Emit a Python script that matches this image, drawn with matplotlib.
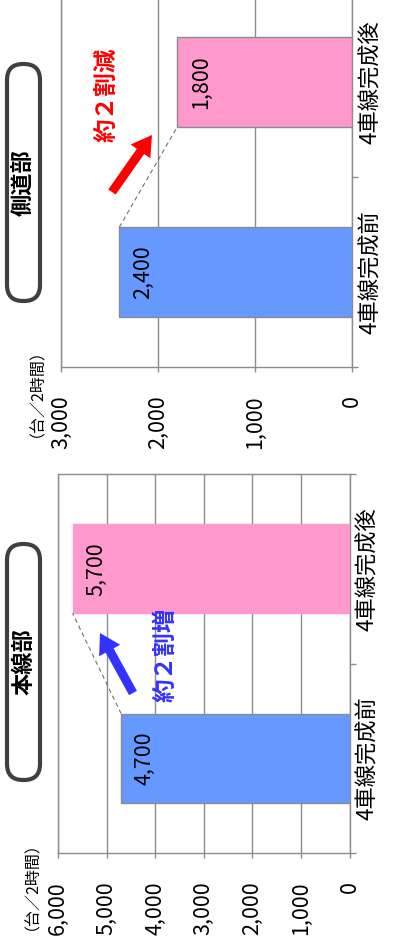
import matplotlib
matplotlib.use('Agg')
import matplotlib.pyplot as plt
from matplotlib.patches import FancyBboxPatch, FancyArrow
from matplotlib.ticker import FuncFormatter

plt.rcParams['font.family'] = ['Noto Sans CJK JP', 'DejaVu Sans']

# 交通量データ（台/2時間）
categories = ['4車線完成前', '4車線完成後']
main_values = [4700, 5700]      # 本線部
side_values = [2400, 1800]      # 側道部
main_ticks = [0, 1000, 2000, 3000, 4000, 5000, 6000]
side_ticks = [0, 1000, 2000, 3000]
unit = '（台／2時間）'

BLUE = '#6699ff'
PINK = '#ff99cc'
GRID = '#8c8c8c'
W, H = 398, 948

fig = plt.figure(figsize=(W / 100, H / 100), dpi=100)


def draw_panel(rect, values, ticks, pink_edge):
    ax = fig.add_axes(rect)
    h = 0.47
    pos = list(range(len(values)))
    ax.barh(pos, values, height=h, color=[BLUE, PINK],
            edgecolor=[GRID, GRID if pink_edge else PINK], linewidth=1, zorder=3)
    ax.set_xlim(ticks[-1], 0)
    ax.set_ylim(-0.5, len(values) - 0.5)
    ax.set_xticks(ticks)
    ax.xaxis.set_major_formatter(FuncFormatter(lambda v, p: f'{int(v):,}'))
    ax.tick_params(axis='x', direction='out', length=3.6, width=1, color=GRID,
                   pad=17, labelsize=15.5, labelrotation=90)
    ax.grid(axis='x', color=GRID, lw=1, zorder=1)
    ax.yaxis.tick_right()
    ax.set_yticks(pos)
    ax.set_yticklabels(categories, rotation=90, va='center', fontsize=16)
    ax.set_yticks([-0.5, 0.5, 1.5], minor=True)
    ax.tick_params(axis='y', which='major', length=0, pad=5)
    ax.tick_params(axis='y', which='minor', length=4.5, color=GRID, width=1,
                   direction='out')
    for s in ax.spines.values():
        s.set_color(GRID)
        s.set_linewidth(1)
    for i, v in enumerate(values):
        ax.annotate(f'{v:,}', xy=(v, i), xytext=(17, 0), textcoords='offset points',
                    rotation=90, ha='center', va='center', fontsize=15.5)
    # 前後の棒の角を結ぶ破線
    ax.plot([values[0], values[1]], [h / 2, 1 - h / 2], ls=(0, (4, 3)),
            color='#707070', lw=0.8, zorder=4)
    return ax


draw_panel([58 / W, (H - 853) / H, 291.5 / W, 379 / H], main_values, main_ticks, False)
draw_panel([61 / W, (H - 367) / H, 291 / W, 380 / H], side_values, side_ticks, True)

# 見出し・矢印などはピクセル座標の重ね合わせ軸に描く
ov = fig.add_axes([0, 0, 1, 1])
ov.set_xlim(0, W)
ov.set_ylim(H, 0)
ov.axis('off')

for y0, y1, title in [(544, 780, '本線部'), (64, 301, '側道部')]:
    ov.add_patch(FancyBboxPatch((7, y0), 33, y1 - y0,
                                boxstyle='round,pad=0,rounding_size=16',
                                fc='white', ec='#404040', lw=3))
    ov.text(24, (y0 + y1) / 2, title, rotation=90, ha='center', va='center',
            fontsize=16, fontweight='bold')

ov.text(24, 878, unit, rotation=90, ha='center', va='center', fontsize=11.5)
ov.text(29, 385, unit, rotation=90, ha='center', va='center', fontsize=11.5)

ov.add_patch(FancyArrow(133, 693, -33, -60, width=9, head_width=24, head_length=20,
                        length_includes_head=True, color='#3333ff', lw=0))
ov.text(166, 655, '約２割増', rotation=90, ha='center', va='center',
        fontsize=17, fontweight='bold', color='#3333ff')

ov.add_patch(FancyArrow(112, 192, 40, -57, width=9, head_width=24, head_length=20,
                        length_includes_head=True, color='#ff0000', lw=0))
ov.text(107, 95, '約２割減', rotation=90, ha='center', va='center',
        fontsize=17, fontweight='bold', color='#ff0000')

fig.savefig('out.png', dpi=100)
